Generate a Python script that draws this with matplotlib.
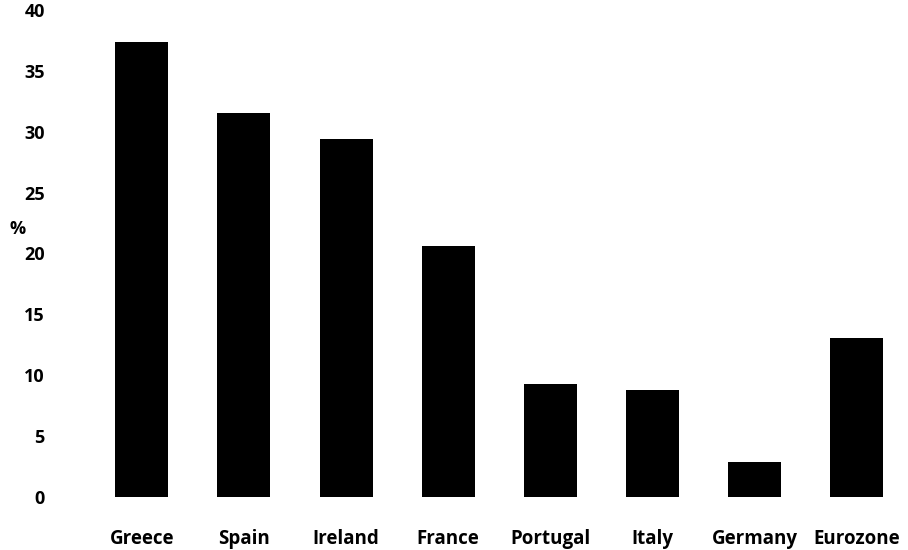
import matplotlib.pyplot as plt

countries = ['Greece', 'Spain', 'Ireland', 'France', 'Portugal', 'Italy', 'Germany', 'Eurozone']
values = [37.4, 31.5, 29.4, 20.6, 9.3, 8.8, 2.9, 13.1]
yticks = [0, 5, 10, 15, 20, 25, 30, 35, 40]

plt.rcParams['font.family'] = ['Open Sans', 'DejaVu Sans']

fig = plt.figure(figsize=(9.08, 5.5), dpi=100)
ax = fig.add_axes([60 / 908, 53 / 550, 848 / 908, 487 / 550])

ax.bar(range(len(countries)), values, width=0.52, color='black')

ax.set_xlim(-0.8, 7.5)
ax.set_ylim(0, 40)
ax.set_yticks(yticks)
ax.set_yticklabels([str(t) for t in yticks], fontsize=13, fontweight='bold')
ax.set_xticks(range(len(countries)))
ax.set_xticklabels(countries, fontsize=13.5, fontweight='bold')
ax.tick_params(axis='both', length=0)
ax.tick_params(axis='y', pad=11)
ax.tick_params(axis='x', pad=23)
for s in ax.spines.values():
    s.set_visible(False)

fig.text(10 / 908, 1 - 229 / 550, '%', fontsize=13, fontweight='bold', va='center', ha='left')

fig.savefig('out.png', dpi=100)
